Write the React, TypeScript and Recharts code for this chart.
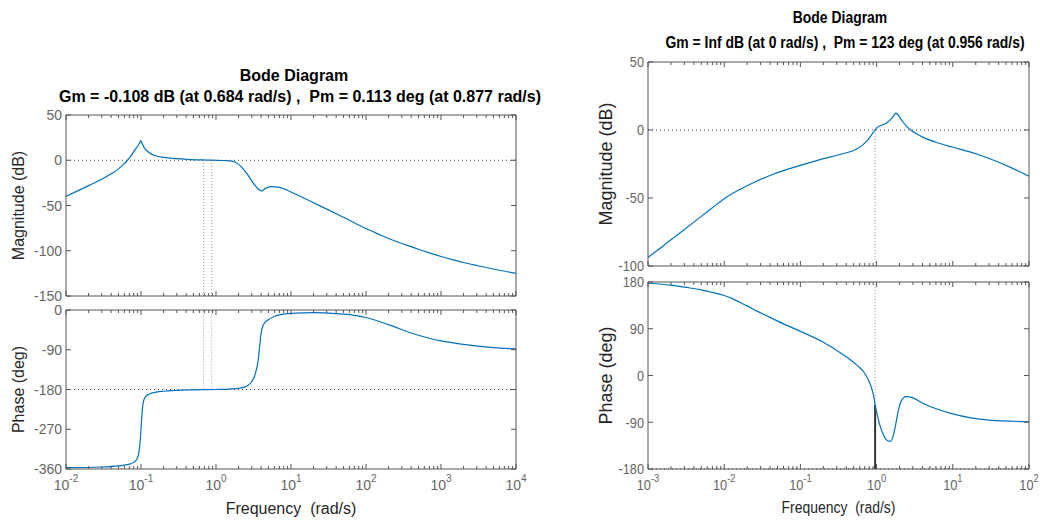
import React from "react";
import { LineChart, Line, XAxis, YAxis, ReferenceLine } from "recharts";

// Left loop: Gm = -0.108 dB (at 0.684 rad/s), Pm = 0.113 deg (at 0.877 rad/s)
const leftMagFreq = [
  0.01, 0.015, 0.02, 0.03, 0.04, 0.05, 0.06, 0.066, 0.07, 0.075, 0.08, 0.085, 0.09, 0.095, 0.1,
  0.103, 0.107, 0.112, 0.12, 0.132, 0.15, 0.2, 0.3, 0.41, 0.7, 1, 1.3, 1.54, 1.8, 2.09, 2.3, 2.57,
  2.85, 3.16, 3.5, 3.8, 4.07, 4.3, 4.7, 5.5, 7, 10, 13, 20, 30, 50, 100, 150, 200, 300, 400, 500, 700,
  1000, 1500, 2000, 3000, 5000, 10000,
];
const leftMagDb = [
  -40, -33, -28, -21, -15, -9.5, -3.5, 0, 2.5, 6, 9.5, 12.5, 15.5, 18.5, 21.6,
  19, 16, 13, 10.5, 7.7, 5.5, 3.2, 1.7, 1, 0.3, 0, -0.3, -0.6, -2, -6, -9.5, -14.5,
  -20, -25.5, -30, -33, -34, -32.5, -30.5, -29.2, -30, -35, -39.5, -47, -54, -63, -75.5, -82, -86.5, -92, -95.5, -98.3, -102.3,
  -106.3, -110.3, -113, -116.3, -120.2, -125,
];
const leftPhaseFreq = [
  0.01, 0.03, 0.05, 0.07, 0.08, 0.088, 0.093, 0.097, 0.1, 0.103, 0.106, 0.11, 0.115, 0.13, 0.16, 0.2,
  0.3, 0.5, 1, 1.5, 2, 2.6, 3.14, 3.4, 3.66, 3.86, 4, 4.17, 4.5, 5, 6, 7, 10, 20, 40, 70, 100, 200,
  400, 700, 1000, 2000, 5000, 10000,
];
const leftPhaseDeg = [
  -357, -355.5, -353, -349, -345, -338, -325, -300, -270, -236, -214, -202, -196, -190, -186, -184,
  -182, -180.8, -180, -179, -177.5, -172, -157, -140, -113, -75, -52, -38, -28, -22, -14, -11, -7.5, -6, -8, -12, -17, -33,
  -52, -64, -70, -78, -85, -88,
];

// Right loop: Gm = Inf dB, Pm = 123 deg (at 0.956 rad/s)
const rightMagFreq = [
  0.001, 0.0015, 0.002, 0.003, 0.005, 0.007, 0.01, 0.0163, 0.027, 0.044, 0.1, 0.2, 0.36, 0.55, 0.75, 0.9, 0.93,
  0.956, 1, 1.1, 1.25, 1.45, 1.65, 1.79, 1.95, 2.14, 2.45, 2.8, 3.3, 4.1, 6, 10, 20, 30, 60, 100,
];
const rightMagDb = [
  -93.7, -86.2, -80.7, -73.2, -63.5, -57.2, -50.5, -43.5, -37.5, -32.5, -26, -21, -17.5, -14, -8, -2, -1,
  0, 1.5, 3, 4, 6.5, 10, 12.4, 10.5, 7, 3, 0, -2.5, -5.4, -9, -12.7, -17.5, -21, -28, -34,
];
const rightPhaseFreq = [
  0.001, 0.002, 0.003, 0.005, 0.007, 0.01, 0.013, 0.016, 0.02, 0.027, 0.035, 0.045, 0.07, 0.1, 0.2, 0.36,
  0.55, 0.68, 0.79, 0.87, 0.93, 0.956, 1, 1.1, 1.22, 1.35, 1.5, 1.62, 1.75, 1.9, 2.05, 2.25, 2.45, 2.9,
  4.1, 10, 30, 100,
];
const rightPhaseDeg = [
  177.6, 174, 170, 165, 160, 154, 147.5, 141, 134, 124, 116, 108, 95, 85, 64, 40.5,
  20, 6.7, -10, -27, -45, -57, -70, -95, -113, -124, -127, -120, -100, -72, -53, -43, -40.5, -42,
  -54, -74, -86, -89,
];

const leftFreqTicks = [0.01, 0.1, 1, 10, 100, 1000, 10000];
const rightFreqTicks = [0.001, 0.01, 0.1, 1, 10, 100];
const leftMagTicks = [50, 0, -50, -100, -150];
const leftPhaseTicks = [0, -90, -180, -270, -360];
const rightMagTicks = [50, 0, -50, -100];
const rightPhaseTicks = [180, 90, 0, -90, -180];

const leftGmFreq = 0.684;
const leftPmFreq = 0.877;
const rightPmFreq = 0.956;
const rightPmPhase = -57;

const BLUE = "#0072BD";
const AXIS = "#555555";
const TICK_TEXT = "#666666";
const LABEL = "#262626";
const SANS = "'Liberation Sans', Arial, Helvetica, sans-serif";

function withMinor(majors: number[]) {
  const out: number[] = [];
  majors.forEach((m, i) => {
    if (i === majors.length - 1) {
      out.push(m);
      return;
    }
    for (let k = 1; k <= 9; k++) out.push(+(m * k).toPrecision(6));
  });
  return out;
}

function isDecade(v: number) {
  const l = Math.log10(v);
  return Math.abs(l - Math.round(l)) < 1e-6;
}

type RefSpec = {
  y?: number;
  x?: number;
  from?: number;
  to?: number;
  color: string;
  dash?: string;
  width?: number;
};

// sx squeezes text horizontally (the right figure is a narrower rendering)
type TextStyle = { size: number; sup: number; sx: number };

function xTick(side: "bottom" | "top", labels: boolean, ts: TextStyle) {
  return (p: any) => {
    const v = p.payload.value;
    const major = isDecade(v);
    const len = major ? 5 : 3;
    const dir = side === "bottom" ? -1 : 1;
    return (
      <g>
        <line x1={p.x} y1={p.y} x2={p.x} y2={p.y + dir * len} stroke={AXIS} strokeWidth={1} />
        {labels && major ? (
          <text
            transform={`translate(${p.x},${p.y + 21}) scale(${ts.sx},1)`}
            textAnchor="middle"
            fill={TICK_TEXT}
            fontFamily={SANS}
            fontSize={ts.size}
          >
            10
            <tspan dy={-8} fontSize={ts.sup}>
              {Math.round(Math.log10(v))}
            </tspan>
          </text>
        ) : null}
      </g>
    );
  };
}

function yTick(side: "left" | "right", ts: TextStyle) {
  return (p: any) => {
    const dir = side === "left" ? 1 : -1;
    return (
      <g>
        <line x1={p.x} y1={p.y} x2={p.x + dir * 5} y2={p.y} stroke={AXIS} strokeWidth={1} />
        {side === "left" ? (
          <text
            transform={`translate(${p.x - 4},${p.y}) scale(${ts.sx},1)`}
            dy="0.36em"
            textAnchor="end"
            fill={TICK_TEXT}
            fontFamily={SANS}
            fontSize={ts.size}
          >
            {p.payload.value}
          </text>
        ) : null}
      </g>
    );
  };
}

function BodePanel(props: {
  left: number;
  top: number;
  width: number;
  height: number;
  // plot box edges inside this chart
  box: { top: number; right: number; bottom: number; left: number };
  freq: number[];
  values: number[];
  xMajor: number[];
  yDomain: [number, number];
  yTicks: number[];
  ts: TextStyle;
  xLabels: boolean;
  refs: RefSpec[];
}) {
  const { freq, values, xMajor, yDomain, yTicks, ts, refs, box } = props;
  const rows = freq.map((f, i) => ({ f, v: values[i] }));
  const ticks = withMinor(xMajor);
  const xDomain = [xMajor[0], xMajor[xMajor.length - 1]];
  // each axis takes 1px of the offset, so the margins are one less than the box gap
  const margin = { top: box.top - 1, right: box.right - 1, bottom: box.bottom - 1, left: box.left - 1 };

  return (
    <div style={{ position: "absolute", left: props.left, top: props.top }}>
      <LineChart width={props.width} height={props.height} data={rows} margin={margin}>
        <XAxis
          xAxisId="b"
          dataKey="f"
          type="number"
          scale="log"
          domain={xDomain}
          allowDataOverflow
          ticks={ticks}
          interval={0}
          height={1}
          tickSize={0}
          tickMargin={0}
          tickLine={false}
          stroke={AXIS}
          tick={xTick("bottom", props.xLabels, ts)}
        />
        <XAxis
          xAxisId="t"
          orientation="top"
          dataKey="f"
          type="number"
          scale="log"
          domain={xDomain}
          allowDataOverflow
          ticks={ticks}
          interval={0}
          height={1}
          tickSize={0}
          tickMargin={0}
          tickLine={false}
          stroke={AXIS}
          tick={xTick("top", false, ts)}
        />
        <YAxis
          yAxisId="l"
          type="number"
          domain={yDomain}
          allowDataOverflow
          ticks={yTicks}
          interval={0}
          width={1}
          tickSize={0}
          tickMargin={0}
          tickLine={false}
          stroke={AXIS}
          tick={yTick("left", ts)}
        />
        <YAxis
          yAxisId="r"
          orientation="right"
          type="number"
          domain={yDomain}
          allowDataOverflow
          ticks={yTicks}
          interval={0}
          width={1}
          tickSize={0}
          tickMargin={0}
          tickLine={false}
          stroke={AXIS}
          tick={yTick("right", ts)}
        />
        {refs.map((r, i) =>
          r.y !== undefined ? (
            <ReferenceLine
              key={i}
              xAxisId="b"
              yAxisId="l"
              y={r.y}
              stroke={r.color}
              strokeDasharray={r.dash}
              strokeWidth={r.width ?? 1}
            />
          ) : (
            <ReferenceLine
              key={i}
              xAxisId="b"
              yAxisId="l"
              segment={[
                { x: r.x, y: r.from },
                { x: r.x, y: r.to },
              ]}
              stroke={r.color}
              strokeDasharray={r.dash}
              strokeWidth={r.width ?? 1}
            />
          )
        )}
        <Line
          xAxisId="b"
          yAxisId="l"
          type="monotone"
          dataKey="v"
          stroke={BLUE}
          strokeWidth={1.2}
          dot={false}
          isAnimationActive={false}
        />
      </LineChart>
    </div>
  );
}

const leftTs: TextStyle = { size: 14, sup: 10, sx: 1 };
const rightTs: TextStyle = { size: 15, sup: 11, sx: 0.85 };
const DOT_DARK = "#444444";
const DOT_LIGHT = "#999999";

export default function App() {
  return (
    <div style={{ position: "absolute", left: 0, top: 0, width: 1040, height: 520, background: "#fff" }}>
      <BodePanel
        left={0}
        top={100}
        width={540}
        height={210}
        box={{ top: 15, right: 24, bottom: 14, left: 66 }}
        freq={leftMagFreq}
        values={leftMagDb}
        xMajor={leftFreqTicks}
        yDomain={[-150, 50]}
        yTicks={leftMagTicks}
        ts={leftTs}
        xLabels={false}
        refs={[
          { y: 0, color: DOT_DARK, dash: "1 3" },
          { x: leftGmFreq, from: -150, to: 0, color: DOT_LIGHT, dash: "1 2" },
          { x: leftPmFreq, from: -150, to: 0, color: DOT_LIGHT, dash: "1 2" },
        ]}
      />
      <BodePanel
        left={0}
        top={300}
        width={540}
        height={200}
        box={{ top: 10, right: 24, bottom: 31, left: 66 }}
        freq={leftPhaseFreq}
        values={leftPhaseDeg}
        xMajor={leftFreqTicks}
        yDomain={[-360, 0]}
        yTicks={leftPhaseTicks}
        ts={leftTs}
        xLabels={true}
        refs={[
          { y: -180, color: DOT_DARK, dash: "1 3" },
          { x: leftGmFreq, from: -180, to: 0, color: DOT_LIGHT, dash: "1 2" },
          { x: leftPmFreq, from: -180, to: 0, color: DOT_LIGHT, dash: "1 2" },
        ]}
      />
      <BodePanel
        left={590}
        top={50}
        width={450}
        height={230}
        box={{ top: 12, right: 11, bottom: 14, left: 58 }}
        freq={rightMagFreq}
        values={rightMagDb}
        xMajor={rightFreqTicks}
        yDomain={[-100, 50]}
        yTicks={rightMagTicks}
        ts={rightTs}
        xLabels={false}
        refs={[
          { y: 0, color: DOT_DARK, dash: "1 3" },
          { x: rightPmFreq, from: -100, to: 0, color: DOT_LIGHT, dash: "1 2" },
        ]}
      />
      <BodePanel
        left={590}
        top={270}
        width={450}
        height={230}
        box={{ top: 12, right: 11, bottom: 31, left: 58 }}
        freq={rightPhaseFreq}
        values={rightPhaseDeg}
        xMajor={rightFreqTicks}
        yDomain={[-180, 180]}
        yTicks={rightPhaseTicks}
        ts={rightTs}
        xLabels={true}
        refs={[
          { y: -180, color: DOT_DARK, dash: "1 3" },
          { x: rightPmFreq, from: rightPmPhase, to: 180, color: DOT_LIGHT, dash: "1 2" },
          { x: rightPmFreq, from: -180, to: rightPmPhase, color: "#333333", width: 2 },
        ]}
      />
      <svg width={1040} height={520} style={{ position: "absolute", left: 0, top: 0, pointerEvents: "none" }}>
        <g fontFamily={SANS} fill="#000" fontWeight="bold" fontSize={16} textAnchor="middle">
          <text x={294} y={81}>Bode Diagram</text>
          <text x={300} y={102} style={{ whiteSpace: "pre" }}>
            {"Gm = -0.108 dB (at 0.684 rad/s) ,  Pm = 0.113 deg (at 0.877 rad/s)"}
          </text>
        </g>
        <g fontFamily={SANS} fill="#000" fontWeight="bold" fontSize={17} textAnchor="middle">
          <text transform="translate(840,23) scale(0.82,1)">Bode Diagram</text>
          <text transform="translate(845,48) scale(0.82,1)" style={{ whiteSpace: "pre" }}>
            {"Gm = Inf dB (at 0 rad/s) ,  Pm = 123 deg (at 0.956 rad/s)"}
          </text>
        </g>
        <g fontFamily={SANS} fill={LABEL} fontSize={16} textAnchor="middle">
          <text transform="translate(24,205.5) rotate(-90)">Magnitude (dB)</text>
          <text transform="translate(24,389.5) rotate(-90)">Phase (deg)</text>
          <text x={291} y={514} style={{ whiteSpace: "pre" }}>
            {"Frequency  (rad/s)"}
          </text>
        </g>
        <g fontFamily={SANS} fill={LABEL} fontSize={18} textAnchor="middle">
          <text transform="translate(612,164) rotate(-90)">Magnitude (dB)</text>
          <text transform="translate(612,375.5) rotate(-90)">Phase (deg)</text>
          <text transform="translate(838.5,513) scale(0.82,1)" fontSize={17} style={{ whiteSpace: "pre" }}>
            {"Frequency  (rad/s)"}
          </text>
        </g>
      </svg>
    </div>
  );
}
